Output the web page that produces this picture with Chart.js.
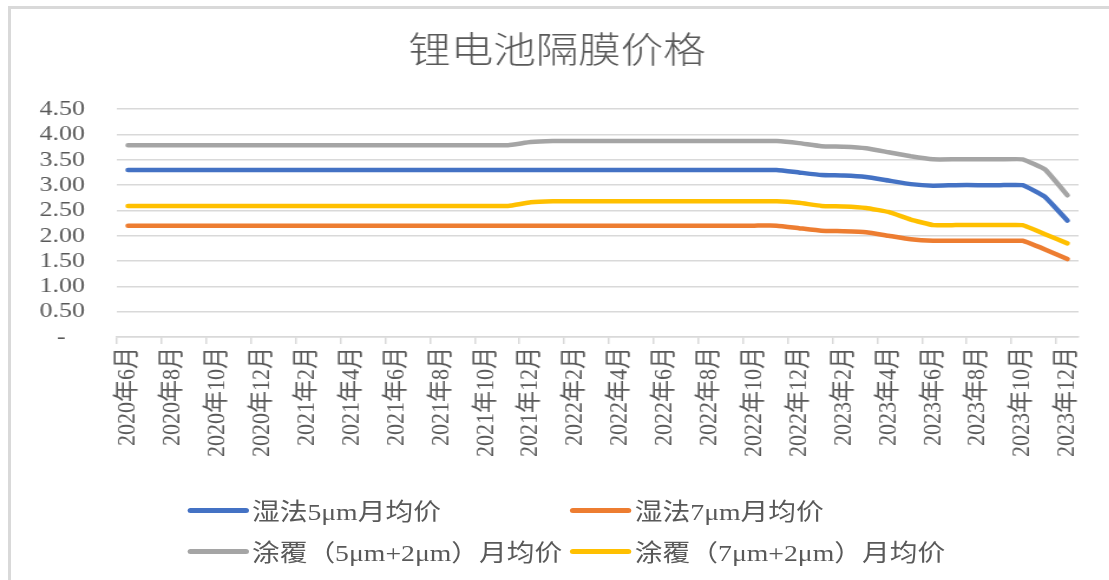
<!DOCTYPE html>
<html>
<head>
<meta charset="utf-8">
<script src="https://cdn.jsdelivr.net/npm/chart.js@4.4.0/dist/chart.umd.min.js"></script>
<style>
body { margin:0; background:#fff; width:1109px; height:580px; overflow:hidden; position:relative; }
#frame { position:absolute; left:8px; top:6px; width:1120px; height:600px; border-top:3px solid #d9d9d9; border-left:3px solid #d9d9d9; }
#stretch { position:absolute; left:0; top:0; width:940px; height:580px; transform:scaleX(1.18); transform-origin:0 0; }
#myChart { position:absolute; left:0; top:0; }
#legend { position:absolute; left:0; top:0; width:940px; height:580px; font-family:"Liberation Serif","Noto Sans CJK SC",serif; font-size:23.5px; color:#595959; }
.item { position:absolute; height:30px; display:flex; align-items:center; white-space:nowrap; }
.swatch { width:52px; height:5px; border-radius:3px; margin-right:3px; }
</style>
</head>
<body onload="onload()">
<div id="frame"></div>
<div id="stretch">
  <canvas id="myChart" width="940" height="580"></canvas>
  <div id="legend"></div>
</div>
<script>
var months = ['2020年6月','2020年7月','2020年8月','2020年9月','2020年10月','2020年11月','2020年12月',
  '2021年1月','2021年2月','2021年3月','2021年4月','2021年5月','2021年6月','2021年7月','2021年8月','2021年9月','2021年10月','2021年11月','2021年12月',
  '2022年1月','2022年2月','2022年3月','2022年4月','2022年5月','2022年6月','2022年7月','2022年8月','2022年9月','2022年10月','2022年11月','2022年12月',
  '2023年1月','2023年2月','2023年3月','2023年4月','2023年5月','2023年6月','2023年7月','2023年8月','2023年9月','2023年10月','2023年11月','2023年12月'];

// 湿法5μm
var wet5 = [3.30,3.30,3.30,3.30,3.30,3.30,3.30,3.30,3.30,3.30,3.30,3.30,3.30,3.30,3.30,3.30,3.30,3.30,3.30,3.30,
  3.30,3.30,3.30,3.30,3.30,3.30,3.30,3.30,3.30,3.30,3.25,3.20,3.19,3.16,3.09,3.02,2.99,3.00,3.00,3.00,3.00,2.77,2.30];
// 湿法7μm
var wet7 = [2.20,2.20,2.20,2.20,2.20,2.20,2.20,2.20,2.20,2.20,2.20,2.20,2.20,2.20,2.20,2.20,2.20,2.20,2.20,2.20,
  2.20,2.20,2.20,2.20,2.20,2.20,2.20,2.20,2.20,2.20,2.15,2.10,2.09,2.07,2.00,1.93,1.90,1.90,1.90,1.90,1.90,1.73,1.54];
// 涂覆 5μm+2μm
var coat5 = [3.79,3.79,3.79,3.79,3.79,3.79,3.79,3.79,3.79,3.79,3.79,3.79,3.79,3.79,3.79,3.79,3.79,3.79,3.85,3.87,
  3.87,3.87,3.87,3.87,3.87,3.87,3.87,3.87,3.87,3.87,3.83,3.77,3.76,3.73,3.65,3.57,3.51,3.51,3.51,3.51,3.51,3.31,2.80];
// 涂覆 7μm+2μm
var coat7 = [2.59,2.59,2.59,2.59,2.59,2.59,2.59,2.59,2.59,2.59,2.59,2.59,2.59,2.59,2.59,2.59,2.59,2.59,2.66,2.68,
  2.68,2.68,2.68,2.68,2.68,2.68,2.68,2.68,2.68,2.68,2.65,2.59,2.58,2.55,2.47,2.32,2.21,2.21,2.21,2.21,2.21,2.03,1.85];

var seriesNames = ['湿法5μm月均价','湿法7μm月均价','涂覆（5μm+2μm）月均价','涂覆（7μm+2μm）月均价'];
var seriesColors = ['#4472C4','#ED7D31','#A5A5A5','#FFC000'];
var yTickLabels = ['-   ','0.50','1.00','1.50','2.00','2.50','3.00','3.50','4.00','4.50'];

var textColor = '#595959';
var gridColor = '#d9d9d9';

function onload() {
  drawChart();
  buildLegend();
}

function drawChart() {
  var values = [wet5, wet7, coat5, coat7];
  var datasets = [];
  for (var i = 0; i < values.length; i++) {
    datasets.push({
      label: seriesNames[i],
      data: values[i],
      borderColor: seriesColors[i],
      backgroundColor: seriesColors[i],
      borderWidth: 4.5,
      borderCapStyle: 'round',
      borderJoinStyle: 'round',
      pointRadius: 0,
      tension: 0.1,
      fill: false
    });
  }

  var ctx = document.getElementById("myChart").getContext("2d");
  new Chart(ctx, {
    type: 'line',
    data: { labels: months, datasets: datasets },
    options: {
      responsive: false,
      animation: false,
      layout: { padding: { left: 30, right: 26, top: 0, bottom: 113 } },
      plugins: {
        legend: { display: false },
        tooltip: { enabled: false },
        title: {
          display: true,
          text: '锂电池隔膜价格',
          color: textColor,
          font: { family: '"Noto Sans CJK SC", sans-serif', size: 36, weight: '300' },
          padding: { top: 28, bottom: 38 }
        }
      },
      scales: {
        x: {
          offset: true,
          grid: {
            offset: true,
            drawOnChartArea: false,
            tickLength: 7,
            lineWidth: 1.5,
            color: function(c) { return c.index % 2 === 0 ? gridColor : 'rgba(0,0,0,0)'; }
          },
          border: { color: gridColor, width: 1.5 },
          ticks: {
            autoSkip: false,
            minRotation: 90,
            maxRotation: 90,
            padding: 3,
            color: textColor,
            font: { family: '"Liberation Serif", "Noto Sans CJK SC", serif', size: 22 },
            callback: function(v, i) { return i % 2 === 0 ? months[i] : ''; }
          },
          afterFit: function(s) { s.height = 130; }
        },
        y: {
          min: 0,
          max: 4.5,
          grid: { color: gridColor, lineWidth: 1.5, drawTicks: false },
          border: { display: false },
          ticks: {
            autoSkip: false,
            stepSize: 0.5,
            padding: 27,
            color: textColor,
            font: { family: '"Liberation Serif", serif', size: 22 },
            callback: function(v, i) { return yTickLabels[i]; }
          },
          afterFit: function(s) { s.width = 69; }
        }
      }
    }
  });
}

function buildLegend() {
  var legend = document.getElementById("legend");
  var lefts = [158.5, 483, 158.5, 483];
  var centers = [510, 510, 551, 551];
  for (var i = 0; i < seriesNames.length; i++) {
    var item = document.createElement("div");
    item.className = "item";
    item.style.left = lefts[i] + "px";
    item.style.top = (centers[i] - 15) + "px";
    item.innerHTML = '<div class="swatch" style="background:' + seriesColors[i] + '"></div><span>' + seriesNames[i] + '</span>';
    legend.appendChild(item);
  }
}
</script>
</body>
</html>
